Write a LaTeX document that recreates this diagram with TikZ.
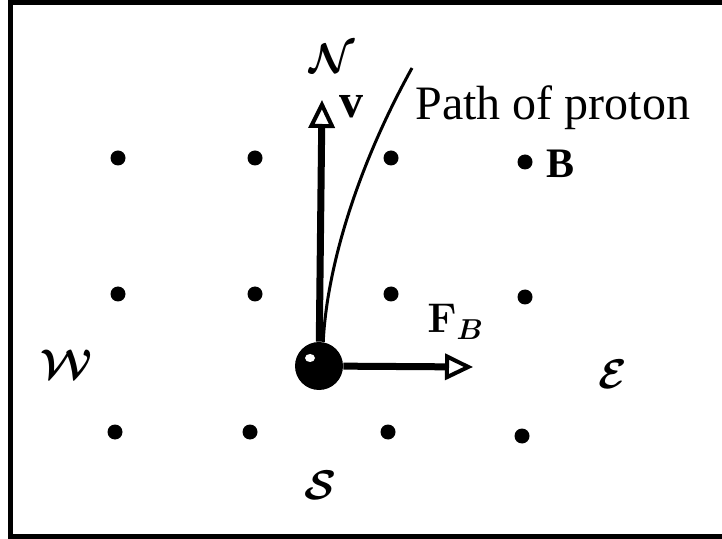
\documentclass[tikz,border=0pt]{standalone}
\usepackage{fontspec}
\setmainfont{Liberation Serif}
\usetikzlibrary{arrows.meta}
\tikzset{
  dot/.style={circle,fill,inner sep=0pt,minimum size=7.5pt},
  vec/.style={line width=3.5pt,-{Triangle[open,length=14pt,width=13pt,line width=2pt]}},
  lbl/.style={inner sep=0pt,font=\fontsize{24}{28}\selectfont},
  cal/.style={inner sep=0pt,font=\fontsize{21}{25}\selectfont\boldmath},
  bold/.style={inner sep=0pt,font=\fontsize{21}{25}\selectfont\bfseries},
}
\begin{document}
\begin{tikzpicture}[x=0.5pt,y=-0.5pt]
\useasboundingbox (0,0) rectangle (722,539);
\draw[line width=2.5pt] (722,2.5) -- (10.5,2.5) -- (10.5,536.5) -- (722,536.5);
\foreach \x/\y/\n in {118/158/11,255/158/12,391/158/13,525/162/14,
  118/294/21,255/294/22,391/294/23,525/297/24,
  115/432/31,250/432/32,388/432/33,522/436/34}
  \node[dot] (d\n) at (\x,\y) {};
\node[circle,fill,inner sep=0pt,minimum size=24pt] (p) at (319,366) {};
\coordinate (vtip) at (322,100);
\coordinate (ftip) at (473,367);
\coordinate (ptop) at (412,68);
\draw[vec] (p) -- (vtip);
\draw[vec] (p) -- (ftip);
\draw[line width=1.5pt] (p.80) .. controls (326,280) and (350,180) .. (ptop);
\fill[white] (310,358) ellipse (5 and 4);
\node[cal] (north) at (332,58) {$\mathcal{N}$};
\node[cal] (west) at (66,364) {$\mathcal{W}$};
\node[cal] (east) at (613,374) {$\mathcal{E}$};
\node[cal] (south) at (320,485) {$\mathcal{S}$};
\node[lbl,font=\fontsize{24}{28}\selectfont\bfseries,anchor=base west] (v) at (339,118) {v};
\node[lbl,anchor=base west] (pathlbl) at (415,120) {Path of proton};
\node[bold,anchor=base west] (B) at (546,178) {B};
\node[bold,font=\fontsize{20}{24}\selectfont\boldmath,anchor=base west] (FB) at (427,333) {$\mathbf{F}_B$};
\end{tikzpicture}
\end{document}
